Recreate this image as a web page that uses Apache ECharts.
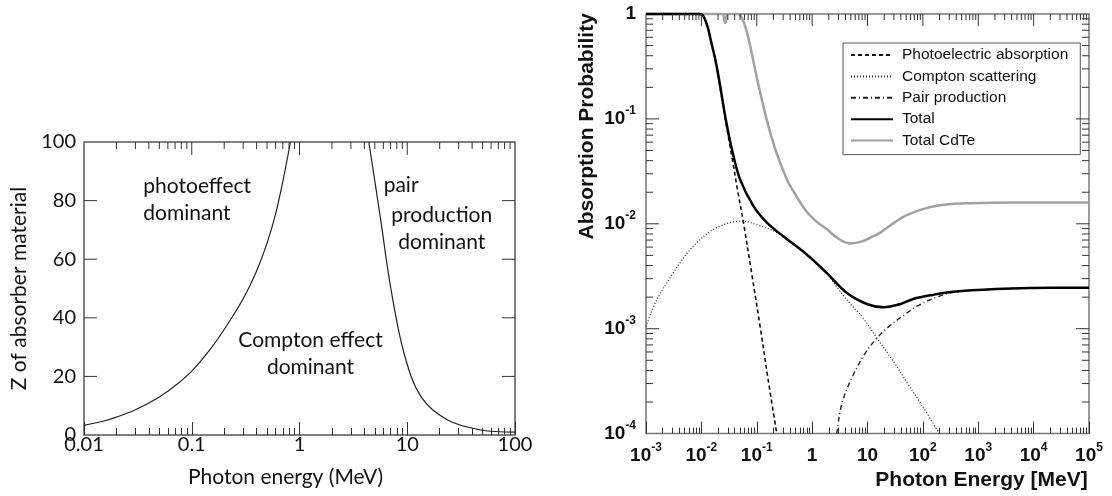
<!DOCTYPE html>
<html>
<head>
<meta charset="utf-8">
<script src="https://cdn.jsdelivr.net/npm/echarts@6/dist/echarts.min.js"></script>
<style>
html, body { margin: 0; padding: 0; background: #fff; }
#chart { width: 1112px; height: 496px; }
</style>
</head>
<body>
<div id="chart"></div>
<script>
// left panel: Z where two interactions are equally likely
var zBoundaryPhoto = [[0.01, 3.3], [0.015, 4.7], [0.02, 6.1], [0.03, 8.6], [0.05, 13.0], [0.07, 16.8], [0.1, 21.8], [0.15, 29.5],
    [0.2, 36], [0.3, 46.5], [0.4, 56], [0.5, 65.5], [0.6, 75.5], [0.7, 86.5], [0.824, 100]];
var zBoundaryPair = [[4.4, 100], [5.67, 73.4], [7.0, 50.6], [9.34, 27.9], [13.4, 13.1], [23.7, 5.1], [48.3, 1.7], [100, 1.0]];
var annoTexts = ['photoeffect\ndominant', 'Compton effect\ndominant', 'pair', 'production\ndominant'];
var annoPos = [[0.0355, 80.2], [1.265, 27.6], [6.04, 85.3], [20.9, 70.5]];
var annoAlign = ['left', 'center', 'left', 'center'];
var leftTicksE = [0.01, 0.1, 1, 10, 100];
var leftTicksZ = [0, 20, 40, 60, 80, 100];

// right panel: absorption probability vs photon energy
var seriesNames = ['Photoelectric absorption', 'Compton scattering', 'Pair production', 'Total', 'Total CdTe'];
var photoElectric = [[0.001, 1], [0.005, 1], [0.009, 1], [0.0105, 0.98], [0.013, 0.75], [0.0148, 0.56], [0.018, 0.36], [0.0214, 0.21],
    [0.027, 0.1], [0.036, 0.042], [0.045, 0.021], [0.057, 0.0106], [0.08, 0.0035], [0.115, 0.00105], [0.16, 0.00033], [0.23, 0.0001]];
var compton = [[0.001, 0.00105], [0.0015, 0.0018], [0.0031, 0.0034], [0.0071, 0.0061], [0.0189, 0.0092], [0.057, 0.0106], [0.1, 0.0098],
    [0.2, 0.0086], [0.3, 0.0076], [0.8, 0.0051], [1.83, 0.0034], [2.78, 0.0025], [5, 0.0017], [8, 0.0013], [14.7, 0.00082],
    [30, 0.00048], [51, 0.00031], [100, 0.00018], [198, 0.0001]];
var pairProd = [[2.78, 0.0001], [3.5, 0.0002], [5.5, 0.00036], [9, 0.00058], [14.7, 0.00081], [25, 0.00106], [44, 0.00133],
    [80, 0.00165], [178, 0.002], [355, 0.00222], [2150, 0.00239], [8500, 0.00244], [100000, 0.00246]];
var total = [[0.001, 1], [0.005, 1], [0.009, 1], [0.0105, 0.98], [0.013, 0.75], [0.0148, 0.56], [0.018, 0.36], [0.0214, 0.22],
    [0.027, 0.105], [0.036, 0.05], [0.05, 0.0265], [0.0867, 0.0148], [0.151, 0.0103], [0.3, 0.0076], [0.8, 0.0051], [1.83, 0.0034],
    [4.2, 0.0022], [9.7, 0.00172], [19.3, 0.0016], [40, 0.00172], [67, 0.00192], [150, 0.0021], [355, 0.00225], [2150, 0.00239],
    [8500, 0.00244], [100000, 0.00246]];
var totalCdTe = [[0.001, 1], [0.02, 1], [0.024, 1], [0.027, 0.82], [0.03, 1], [0.045, 1], [0.055, 0.9], [0.07, 0.6], [0.1, 0.25],
    [0.15, 0.1], [0.22, 0.05], [0.35, 0.0265], [0.5, 0.019], [0.8, 0.013], [1.2, 0.0105], [1.83, 0.0089], [3, 0.0072], [4.8, 0.0065],
    [8, 0.0068], [12, 0.0075], [16.8, 0.0082], [30, 0.0102], [50, 0.012], [100, 0.0138], [200, 0.015], [500, 0.0156], [2000, 0.0159],
    [10000, 0.016], [100000, 0.016]];
var rightTicksE = [1e-3, 1e-2, 1e-1, 1, 10, 1e2, 1e3, 1e4, 1e5];
var rightTicksP = [1e-4, 1e-3, 1e-2, 1e-1, 1];

var chart = echarts.init(document.getElementById('chart'));

// 2..9 inside every decade
function minorTicks(majors) {
    var out = [];
    for (var i = 0; i < majors.length - 1; i++) {
        for (var k = 2; k <= 9; k++) out.push(majors[i] * k);
    }
    return out;
}

// inward tick marks: thin rect symbols sitting on one edge of the frame
function edgeTicks(values, edge, at, len) {
    return values.map(function (v) {
        var horiz = edge === 'left' || edge === 'right';
        var sign = (edge === 'bottom' || edge === 'right') ? -1 : 1;
        return {
            value: horiz ? [at, v] : [v, at],
            symbolSize: horiz ? [len, 1] : [1, len],
            symbolOffset: horiz ? [sign * len / 2, 0] : [0, sign * len / 2]
        };
    });
}

function tickSeries(gi, data) {
    return {
        type: 'scatter', xAxisIndex: gi, yAxisIndex: gi, data: data, symbol: 'rect', silent: true, clip: false,
        progressive: 0, itemStyle: { color: '#333', opacity: 1 }, z: 10
    };
}

function powLabel(v) {
    var e = Math.round(Math.log10(v));
    if (e === 0) return '{b|1}';
    if (e === 1) return '{b|10}';
    return '{b|10}{s|' + e + '}';
}

function decLabel(v) {
    var e = Math.round(Math.log10(v));
    return e < 0 ? v.toFixed(-e) : String(Math.round(v));
}

var powRich = {
    b: { fontFamily: 'Liberation Sans', fontWeight: 'bold', fontSize: 19, lineHeight: 28, color: '#111' },
    s: { fontFamily: 'Liberation Sans', fontWeight: 'bold', fontSize: 12, lineHeight: 12, verticalAlign: 'top', color: '#111' }
};
var noTick = { show: false };
var noSplit = { show: false };
var tickLine = { color: '#333', width: 1 };

var leftMinorE = minorTicks(leftTicksE);
var leftMidZ = leftTicksZ.slice(1, -1);
var leftTicks = []
    .concat(edgeTicks(leftTicksE.slice(1, -1), 'top', 100, 13))
    .concat(edgeTicks(leftMinorE, 'top', 100, 7))
    .concat(edgeTicks(leftMidZ, 'left', 0.01, 13))
    .concat(edgeTicks(leftMidZ, 'right', 100, 13));

var rightMinorP = minorTicks(rightTicksP);
var rightMidP = rightTicksP.slice(1, -1);
var rightTicks = []
    .concat(edgeTicks(rightTicksE.slice(1, -1), 'top', 1, 12))
    .concat(edgeTicks(minorTicks(rightTicksE), 'top', 1, 6))
    .concat(edgeTicks(rightMidP, 'left', 1e-3, 13))
    .concat(edgeTicks(rightMinorP, 'left', 1e-3, 7))
    .concat(edgeTicks(rightMidP, 'right', 1e5, 13))
    .concat(edgeTicks(rightMinorP, 'right', 1e5, 7));

var annoData = annoTexts.map(function (t, i) {
    return { value: annoPos[i], name: t, label: { align: annoAlign[i] } };
});

function curve(name, data, color, width, dash) {
    return {
        name: name, type: 'line', xAxisIndex: 1, yAxisIndex: 1, data: data,
        smooth: 0.35, symbol: 'none', clip: false, silent: true,
        itemStyle: { color: color },
        lineStyle: { color: color, width: width, type: dash }
    };
}

chart.setOption({
    animation: false,
    backgroundColor: '#fff',
    grid: [
        { left: 84, right: 597, top: 142, bottom: 61, show: true, borderColor: '#555', borderWidth: 1.5 },
        { left: 646, right: 23, top: 14, bottom: 61, show: true, borderColor: '#777', borderWidth: 1.5 }
    ],
    xAxis: [
        {
            type: 'log', logBase: 10, min: 0.01, max: 100, gridIndex: 0, splitNumber: 4,
            axisLine: { show: false }, splitLine: noSplit,
            axisTick: { show: true, inside: true, length: 13, lineStyle: tickLine },
            minorTick: { show: true, splitNumber: 9, length: 7, lineStyle: tickLine },
            axisLabel: { customValues: leftTicksE, formatter: decLabel, margin: 0, fontFamily: 'Lato', fontSize: 20, color: '#111' },
            name: 'Photon energy (MeV)', nameLocation: 'middle', nameGap: 32,
            nameTextStyle: { fontFamily: 'Lato', fontSize: 21, color: '#111', padding: [0, 28, 0, 0] }
        },
        {
            type: 'log', logBase: 10, min: 1e-3, max: 1e5, gridIndex: 1, splitNumber: 8,
            axisLine: { show: false }, splitLine: noSplit,
            axisTick: { show: true, inside: true, length: 12, lineStyle: tickLine },
            minorTick: { show: true, splitNumber: 9, length: 6, lineStyle: tickLine },
            axisLabel: { customValues: rightTicksE, formatter: powLabel, rich: powRich, margin: 8 },
            name: 'Photon Energy [MeV]', nameLocation: 'middle', nameGap: 32,
            nameTextStyle: { fontFamily: 'Liberation Sans', fontWeight: 'bold', fontSize: 21, color: '#111', padding: [0, 0, 0, 228] }
        }
    ],
    yAxis: [
        {
            type: 'value', min: 0, max: 100, interval: 20, gridIndex: 0,
            axisLine: { show: false }, axisTick: noTick, splitLine: noSplit,
            axisLabel: { margin: 8, fontFamily: 'Lato', fontSize: 20, color: '#111' },
            name: 'Z of absorber material', nameLocation: 'middle', nameGap: 54,
            nameTextStyle: { fontFamily: 'Lato', fontSize: 21, color: '#111' }
        },
        {
            type: 'log', logBase: 10, min: 1e-4, max: 1, gridIndex: 1,
            axisLine: { show: false }, axisTick: noTick, splitLine: noSplit,
            axisLabel: { customValues: rightTicksP, formatter: powLabel, rich: powRich, margin: 10 },
            name: 'Absorption Probability', nameLocation: 'middle', nameGap: 48,
            nameTextStyle: { fontFamily: 'Liberation Sans', fontWeight: 'bold', fontSize: 21, color: '#111', padding: [0, 0, 0, 195] }
        }
    ],
    legend: {
        data: seriesNames,
        orient: 'vertical',
        left: 843, top: 43,
        itemWidth: 42, itemHeight: 14, itemGap: 5.4,
        padding: [4, 12, 6, 7],
        borderColor: '#555', borderWidth: 1, backgroundColor: '#fff',
        itemStyle: { opacity: 0 },
        textStyle: { fontFamily: 'Liberation Sans', fontSize: 15.5, color: '#111', padding: [0, 0, 0, 4] }
    },
    series: [
        tickSeries(0, leftTicks),
        tickSeries(1, rightTicks),
        {
            type: 'line', xAxisIndex: 0, yAxisIndex: 0, data: zBoundaryPhoto, smooth: 0.3, symbol: 'none', silent: true,
            lineStyle: { color: '#222', width: 1.2 }
        },
        {
            type: 'line', xAxisIndex: 0, yAxisIndex: 0, data: zBoundaryPair, smooth: 0.35, symbol: 'none', silent: true,
            lineStyle: { color: '#222', width: 1.2 }
        },
        {
            type: 'scatter', xAxisIndex: 0, yAxisIndex: 0, data: annoData, symbolSize: 0, silent: true,
            itemStyle: { opacity: 1 },
            label: {
                show: true, position: 'inside', formatter: '{b}', verticalAlign: 'middle',
                fontFamily: 'Lato', fontSize: 21, lineHeight: 27, color: '#111'
            }
        },
        curve(seriesNames[4], totalCdTe, '#a2a2a2', 2.5, 'solid'),
        curve(seriesNames[0], photoElectric, '#111', 1.6, [4, 3]),
        curve(seriesNames[1], compton, '#222', 1.2, [1, 2]),
        curve(seriesNames[2], pairProd, '#222', 1.4, [5, 3, 1, 3]),
        curve(seriesNames[3], total, '#000', 2.5, 'solid')
    ]
});
</script>
</body>
</html>
